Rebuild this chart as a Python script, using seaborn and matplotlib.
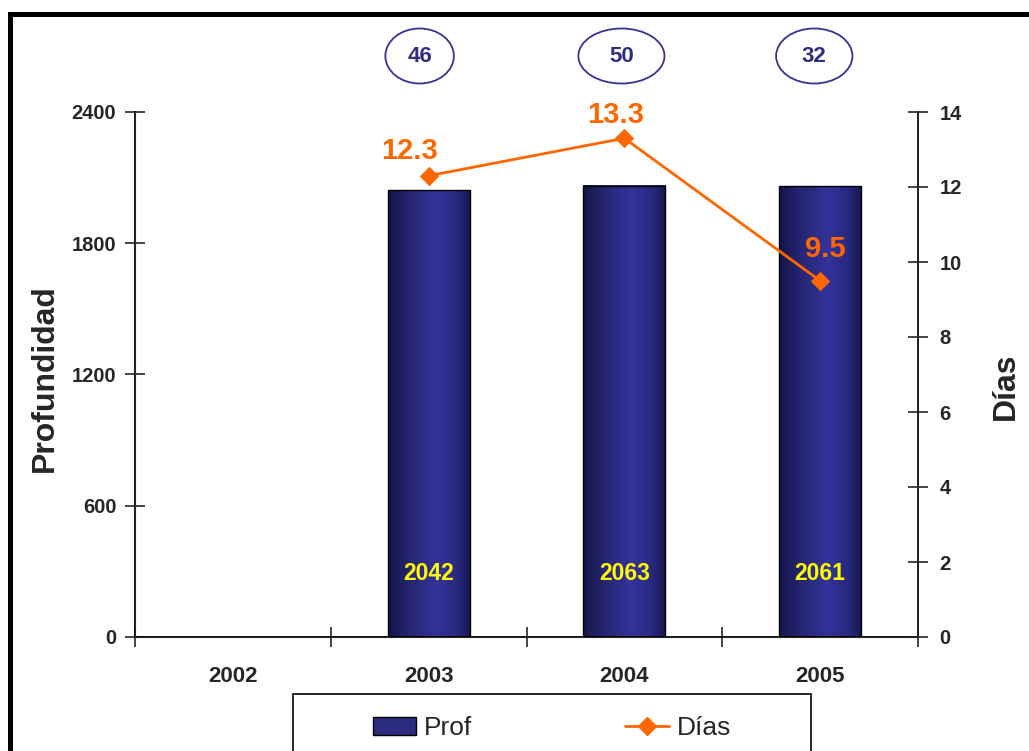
import numpy as np
import pandas as pd
import matplotlib
matplotlib.use('Agg')
import matplotlib.pyplot as plt
import seaborn as sns
from matplotlib.patches import Ellipse, Rectangle, Patch
from matplotlib.lines import Line2D
from matplotlib.colors import LinearSegmentedColormap
from matplotlib import transforms

"""Data"""
years = ['2002', '2003', '2004', '2005']
prof = [np.nan, 2042, 2063, 2061]
dias = [np.nan, 12.3, 13.3, 9.5]
pozos = [None, 46, 50, 32]
prof_ticks = [0, 600, 1200, 1800, 2400]
dias_ticks = [0, 2, 4, 6, 8, 10, 12, 14]

df = pd.DataFrame({'year': years, 'prof': prof, 'dias': dias,
                   'pos': np.arange(len(years))})

navy = '#2b2b80'
orange = '#FF6600'
ell_color = '#333399'

sns.set_style('ticks')
plt.rcParams['font.family'] = ['Liberation Sans', 'DejaVu Sans']

W, H = 1029, 751
fig = plt.figure(figsize=(W / 100, H / 100), dpi=100)
ax = fig.add_axes([135 / W, 1 - 637 / H, (918 - 135) / W, (637 - 112) / H])

"""Bars"""
sns.barplot(data=df, x='year', y='prof', order=years, width=0.42,
            color=navy, saturation=1, edgecolor='black', linewidth=1, ax=ax)

# gradient fill like the 3D shaded bars
cmap = LinearSegmentedColormap.from_list(
    'bar', [(0, '#15154a'), (0.25, '#252570'), (0.58, '#333399'),
            (0.82, '#2a2a82'), (1, '#17174f')])
grad = np.linspace(0, 1, 256).reshape(1, -1)
bars = [p for p in ax.patches if np.isfinite(p.get_height()) and p.get_height() > 0]
for p in bars:
    x0, y0, w, h = p.get_x(), p.get_y(), p.get_width(), p.get_height()
    p.set_facecolor('none')
    p.set_zorder(3)
    ax.imshow(grad, cmap=cmap, extent=[x0, x0 + w, y0, y0 + h],
              aspect='auto', zorder=2)
    ax.text(x0 + w / 2, 290, f'{int(round(h))}', ha='center', va='center',
            color='#FFFF00', fontsize=16.5, fontweight='bold', zorder=4)

ax.set_xlim(-0.5, 3.5)
ax.set_ylim(0, 2400)
ax.set_xlabel('')
ax.set_ylabel('')
ax.set_yticks(prof_ticks, labels=[str(t) for t in prof_ticks],
              fontsize=14.5, fontweight='bold')
ax.set_xticks(range(len(years)), labels=years, fontsize=16, fontweight='bold')
ax.set_xticks(np.arange(-0.5, len(years), 1), minor=True)
ax.tick_params(axis='x', which='major', length=0, pad=21)
ax.tick_params(axis='x', which='minor', direction='inout', length=15, width=1.2)
ax.tick_params(axis='y', direction='inout', length=15, width=1.2, pad=6)
ax.spines['top'].set_visible(False)
for s in ['left', 'bottom', 'right']:
    ax.spines[s].set_linewidth(1.3)
    ax.spines[s].set_color('black')

"""Line on secondary axis"""
ax2 = ax.twinx()
sns.lineplot(data=df, x='pos', y='dias', ax=ax2, color=orange, marker='D',
             markersize=9, markeredgecolor=orange, linewidth=2)
ax2.set_xlim(-0.5, 3.5)
ax2.set_ylim(0, 14)
ax2.set_ylabel('')
ax2.set_xlabel('')
ax2.set_yticks(dias_ticks, labels=[str(t) for t in dias_ticks],
               fontsize=14.5, fontweight='bold')
ax2.tick_params(axis='y', direction='inout', length=15, width=1.2, pad=8)
ax2.spines['top'].set_visible(False)
ax2.spines['right'].set_linewidth(1.3)

label_offsets = [None, (-14, 18), (-6, 17), (4, 23)]
for i, v in enumerate(dias):
    if np.isfinite(v):
        ax2.annotate(f'{v}', xy=(df['pos'][i], v), xytext=label_offsets[i],
                     textcoords='offset points', ha='center', va='center',
                     color=orange, fontsize=21, fontweight='bold')

"""Ellipses with counts above the bars"""
trans = transforms.blended_transform_factory(ax.transData, fig.transFigure)
ell_widths = [None, 0.35, 0.44, 0.39]
ell_shift = [0, -0.046, -0.015, -0.03]
ell_y = 1 - 56 / H
for i, n in enumerate(pozos):
    if n is None:
        continue
    cx = i + ell_shift[i]
    fig.add_artist(Ellipse((cx, ell_y), width=ell_widths[i], height=55 / H,
                           transform=trans, fill=False, edgecolor=ell_color,
                           linewidth=1.3, clip_on=False))
    ax.text(cx, ell_y, str(n), transform=trans, ha='center', va='center',
            color='#2e2e80', fontsize=16, fontweight='bold', clip_on=False)

"""Axis titles"""
fig.text(45 / W, 1 - 378 / H, 'Profundidad', rotation=90, ha='center',
         va='center', fontsize=23, fontweight='bold')
fig.text(1006 / W, 1 - 386 / H, 'Días', rotation=90, ha='center',
         va='center', fontsize=23, fontweight='bold')

"""Legend"""
handles = [Patch(facecolor=navy, edgecolor='black', label='Prof'),
           Line2D([], [], color=orange, marker='D', markersize=9, linewidth=2,
                  label='Días')]
fig.legend(handles=handles, loc='center', bbox_to_anchor=(552 / W, 1 - 728 / H),
           ncol=2, frameon=False, fontsize=19, handlelength=1.65,
           handleheight=0.7, handletextpad=0.3, columnspacing=5.8)
fig.add_artist(Rectangle((292.5 / W, -0.02), (811 - 292.5) / W,
                         (1 - 694 / H) + 0.02, transform=fig.transFigure,
                         fill=False, edgecolor='black', linewidth=1.2))

"""Outer frame (left and top only)"""
fig.add_artist(Line2D([9.5 / W, 9.5 / W], [0, 1 - 13.5 / H],
                      transform=fig.transFigure, color='black', linewidth=3.6,
                      solid_capstyle='projecting'))
fig.add_artist(Line2D([9.5 / W, 1], [1 - 13.5 / H, 1 - 13.5 / H],
                      transform=fig.transFigure, color='black', linewidth=3.6,
                      solid_capstyle='projecting'))

fig.savefig('out.png', dpi=100)
